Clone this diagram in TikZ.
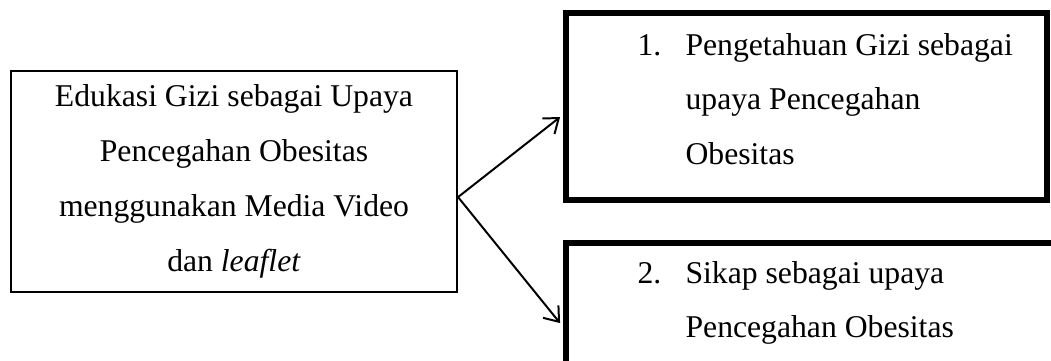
\documentclass[tikz,border=0pt]{standalone}
\usepackage{fontspec}
\setmainfont{Liberation Serif}
\usetikzlibrary{arrows.meta}

\begin{document}
\begin{tikzpicture}[x=0.3788pt, y=-0.3788pt, >={Straight Barb[length=5pt,width=7.5pt]},
    every node/.style={font=\fontsize{12}{20.8}\selectfont},
    kotak/.style={draw, line width=0.8pt, inner sep=0pt},
    kotaktebal/.style={draw, line width=2.5pt, inner sep=0pt},
    daftar/.style={inner sep=0pt, anchor=base west}]
    \useasboundingbox (0,0) rectangle (1051,360);

    % Edukasi box
    \node[kotak, minimum width=446*0.3788pt, minimum height=221*0.3788pt, align=center] (edukasi) at (234,181.5)
        {Edukasi Gizi sebagai Upaya\\ Pencegahan Obesitas\\ menggunakan Media Video\\ dan \textit{leaflet}};

    % Result boxes
    \node[kotaktebal, minimum width=481*0.3788pt, minimum height=187*0.3788pt] (hasil1) at (806.5,106.5) {};
    \node[kotaktebal, minimum width=494*0.3788pt, minimum height=137*0.3788pt] (hasil2) at (813,311.5) {};

    \node[daftar] (isi1) at (637,55) {\begin{tabular}[t]{@{}l@{\hspace{9.2pt}}l@{}}
        1. & Pengetahuan Gizi sebagai\\
           & upaya Pencegahan\\
           & Obesitas
        \end{tabular}};
    \node[daftar] (isi2) at (637,283) {\begin{tabular}[t]{@{}l@{\hspace{9.2pt}}l@{}}
        2. & Sikap sebagai upaya\\
           & Pencegahan Obesitas
        \end{tabular}};

    % Arrows
    \draw[->, line width=0.75pt] ([yshift=-5.9pt]edukasi.east) -- ([xshift=-1pt, yshift=-4pt]hasil1.west);
    \draw[->, line width=0.75pt] ([yshift=-5.9pt]edukasi.east) -- ([xshift=-1pt, yshift=-4.4pt]hasil2.west);
\end{tikzpicture}
\end{document}
